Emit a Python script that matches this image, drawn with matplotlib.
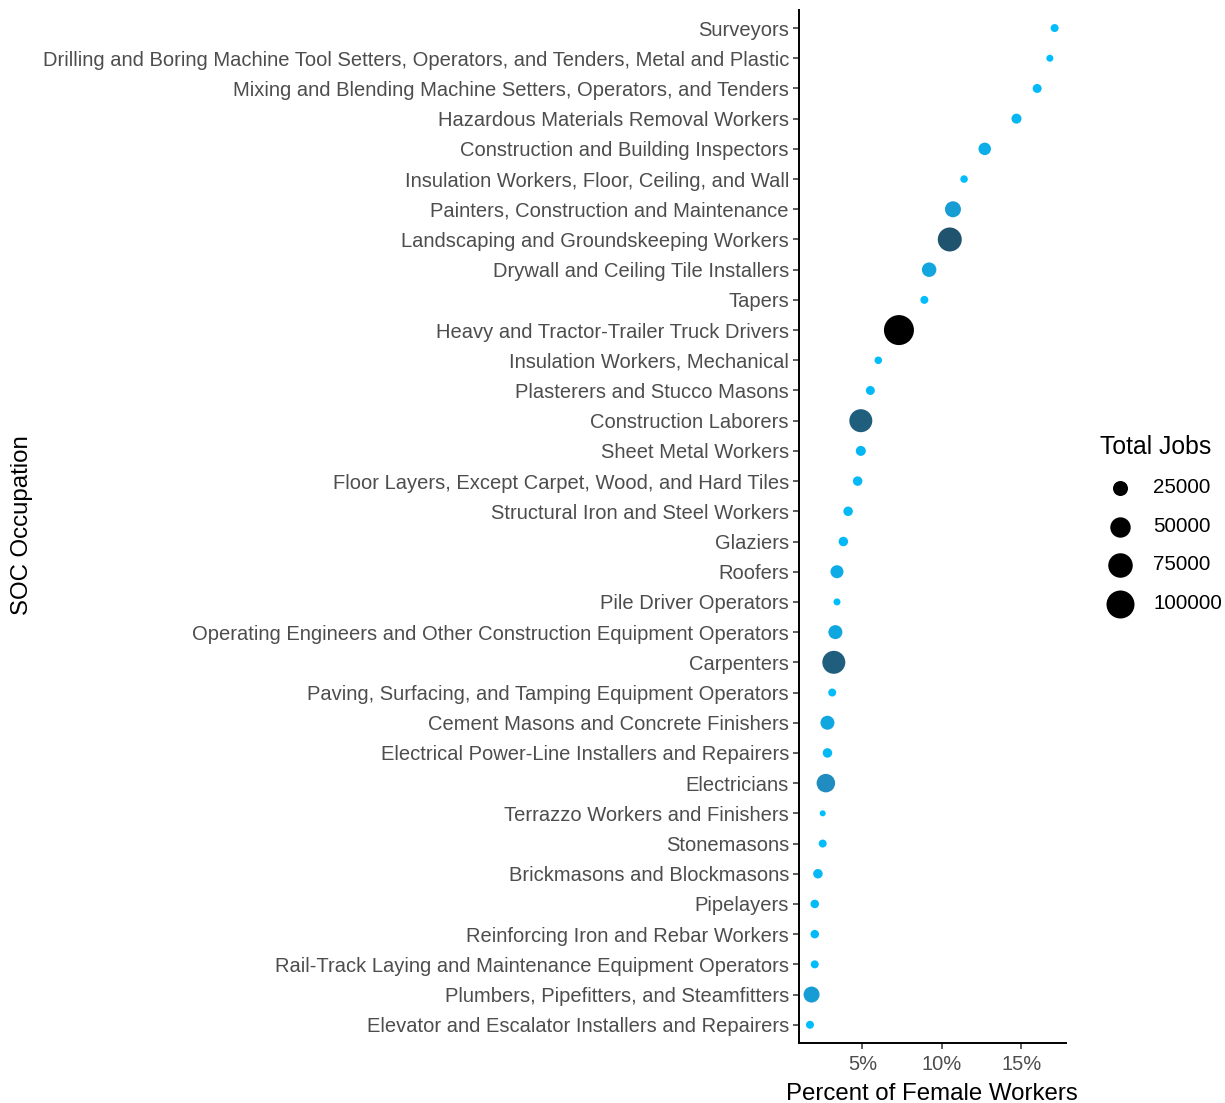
import numpy as np
import matplotlib.pyplot as plt
from matplotlib.colors import LinearSegmentedColormap

plt.rcParams['font.family'] = ['Liberation Sans', 'DejaVu Sans']

## DATA (top to bottom as in the chart)
occupations = [
    'Surveyors',
    'Drilling and Boring Machine Tool Setters, Operators, and Tenders, Metal and Plastic',
    'Mixing and Blending Machine Setters, Operators, and Tenders',
    'Hazardous Materials Removal Workers',
    'Construction and Building Inspectors',
    'Insulation Workers, Floor, Ceiling, and Wall',
    'Painters, Construction and Maintenance',
    'Landscaping and Groundskeeping Workers',
    'Drywall and Ceiling Tile Installers',
    'Tapers',
    'Heavy and Tractor-Trailer Truck Drivers',
    'Insulation Workers, Mechanical',
    'Plasterers and Stucco Masons',
    'Construction Laborers',
    'Sheet Metal Workers',
    'Floor Layers, Except Carpet, Wood, and Hard Tiles',
    'Structural Iron and Steel Workers',
    'Glaziers',
    'Roofers',
    'Pile Driver Operators',
    'Operating Engineers and Other Construction Equipment Operators',
    'Carpenters',
    'Paving, Surfacing, and Tamping Equipment Operators',
    'Cement Masons and Concrete Finishers',
    'Electrical Power-Line Installers and Repairers',
    'Electricians',
    'Terrazzo Workers and Finishers',
    'Stonemasons',
    'Brickmasons and Blockmasons',
    'Pipelayers',
    'Reinforcing Iron and Rebar Workers',
    'Rail-Track Laying and Maintenance Equipment Operators',
    'Plumbers, Pipefitters, and Steamfitters',
    'Elevator and Escalator Installers and Repairers',
]
pct_female = [17.1, 16.8, 16.0, 14.7, 12.7, 11.4, 10.7, 10.5, 9.2, 8.9,
              7.3, 6.0, 5.5, 4.9, 4.9, 4.7, 4.1, 3.8, 3.4, 3.4,
              3.3, 3.2, 3.1, 2.8, 2.8, 2.7, 2.5, 2.5, 2.2, 2.0,
              2.0, 2.0, 1.8, 1.7]
total_jobs = [5300, 3700, 7200, 9500, 16300, 4500, 29000, 71600, 23100, 5300,
              116000, 4500, 7200, 65200, 9500, 8300, 8300, 8300, 17900, 3700,
              21300, 65200, 5300, 21300, 8300, 40300, 2400, 5300, 8300, 6300,
              6300, 5300, 29000, 5300]
legend_breaks = [25000, 50000, 75000, 100000]


def marker_area(jobs):
    # diameter in px -> scatter area in pt^2 (dpi 100)
    d_px = 2 + 26 * np.sqrt(np.asarray(jobs) / 100000)
    return (d_px * 0.72) ** 2


# light blue -> black, roughly like a Lab gradient
cmap = LinearSegmentedColormap.from_list(
    'jobs', [(0, '#00BFFF'), (0.2, '#14A2DA'), (0.35, '#2189BC'),
             (0.6, '#20546F'), (0.8, '#15303F'), (1, '#000000')])

fig = plt.figure(figsize=(12.25, 11.03), dpi=100)
ax = fig.add_axes([0.652, 0.0545, 0.218, 0.9365])

y = np.arange(len(occupations))[::-1]
ax.scatter(pct_female, y, s=marker_area(total_jobs), c=total_jobs, cmap=cmap,
           vmin=min(total_jobs), vmax=max(total_jobs), linewidths=0, zorder=3)

ax.set_yticks(y)
ax.set_yticklabels(occupations)
ax.set_ylim(-0.6, len(occupations) - 0.4)
ax.set_xlim(0.99, 17.8)
ax.set_xticks([5, 10, 15])
ax.xaxis.set_major_formatter('{x:.0f}%')

for side in ['top', 'right']:
    ax.spines[side].set_visible(False)
for side in ['left', 'bottom']:
    ax.spines[side].set_linewidth(1.4)
    ax.spines[side].set_color('black')
ax.tick_params(axis='both', length=4, width=1.1, color='#333333',
               labelcolor='#4D4D4D', labelsize=14.5, pad=3)
ax.tick_params(axis='x', pad=5)

ax.set_xlabel('Percent of Female Workers', fontsize=17.3, color='black', labelpad=6)
fig.text(0.018, 0.524, 'SOC Occupation', rotation=90, fontsize=17.3,
         ha='center', va='center')

# size legend
handles = [ax.scatter([], [], s=marker_area([b])[0], color='black', linewidths=0)
           for b in legend_breaks]
leg = fig.legend(handles, [str(b) for b in legend_breaks], title='Total Jobs',
                 loc='center left', bbox_to_anchor=(0.886, 0.525), frameon=False,
                 fontsize=14.8, title_fontsize=17.8, labelspacing=0.95,
                 handletextpad=0.6, borderpad=0.2)
leg._legend_box.align = 'left'

fig.savefig('out.png', dpi=100)
